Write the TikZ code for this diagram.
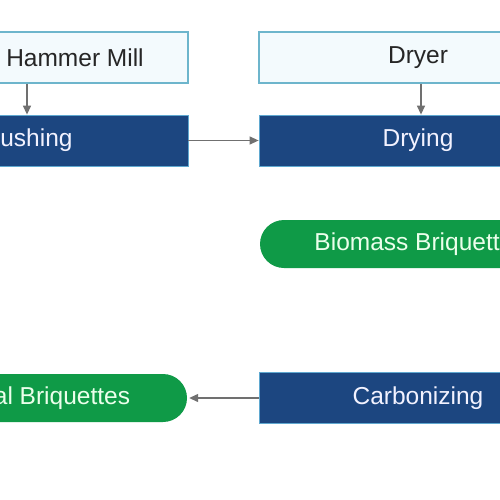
\documentclass[tikz,border=0pt]{standalone}
\usepackage{fontspec}
\setmainfont{Liberation Sans}
\usetikzlibrary{arrows.meta}
\definecolor{navy}{HTML}{1C4680}
\definecolor{navyedge}{HTML}{5FA8D0}
\definecolor{lightfill}{HTML}{F3FAFD}
\definecolor{lightedge}{HTML}{6DB5CC}
\definecolor{pillgreen}{HTML}{0F9A47}
\definecolor{arrowgray}{HTML}{707070}
\tikzset{
  every node/.style={font=\fontsize{24.5}{28}\selectfont, inner sep=0pt},
  lightbox/.style={draw=lightedge, line width=1.2pt, fill=lightfill, text=black!85, minimum height=51pt},
  darkbox/.style={draw=navyedge, line width=0.8pt, fill=navy, text=white!95!blue, minimum height=51pt},
  pill/.style={fill=pillgreen, text=white!92!green, rounded corners=24pt, minimum height=48pt},
  conn/.style={draw=arrowgray, line width=1.3pt, -{Triangle[length=9pt,width=8pt]}}
}
\begin{document}
\begin{tikzpicture}[x=1pt,y=-1pt]
\useasboundingbox (0,0) rectangle (500,500);
\fill[white] (0,0) rectangle (500,500);
\clip (0,0) rectangle (500,500);
\node[lightbox, minimum width=226pt] (hammer) at (75,57.5) {Hammer Mill};
\node[lightbox, minimum width=318pt] (dryer) at (418,57.5) {Dryer};
\node[darkbox, minimum width=329pt] (crush) at (23.5,140.5) {Crushing};
\node[darkbox, minimum width=318pt] (dry) at (418,140.5) {Drying};
\node[pill, minimum width=320pt] (bio) at (420,244) {Biomass Briquettes};
\node[darkbox, minimum width=318pt] (carb) at (418,398) {Carbonizing};
\node[pill, minimum width=329pt] (char) at (22.5,398) {Charcoal Briquettes};
\draw[conn] ([xshift=-48pt]hammer.south) -- ([xshift=3.5pt]crush.north);
\draw[conn] ([xshift=3pt]dryer.south) -- ([xshift=3pt]dry.north);
\draw[conn] (crush.east) -- (dry.west);
\draw[conn] (carb.west) -- ([xshift=2pt]char.east);
\end{tikzpicture}
\end{document}
